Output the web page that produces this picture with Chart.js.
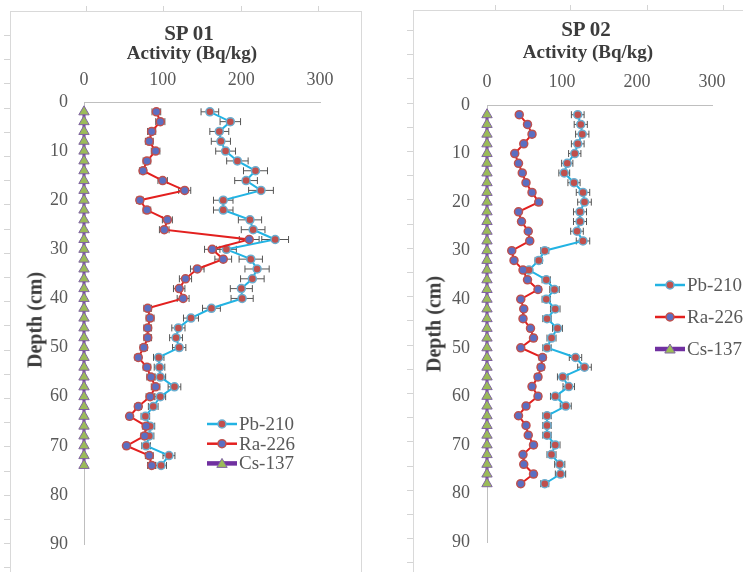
<!DOCTYPE html>
<html><head><meta charset="utf-8">
<script src="https://cdn.jsdelivr.net/npm/chart.js@4.4.0/dist/chart.umd.min.js"></script>
<style>
html,body{margin:0;padding:0;background:#fff;width:743px;height:572px;overflow:hidden;position:relative;font-family:"Liberation Serif","DejaVu Serif",serif;}
.frame{position:absolute;border:1px solid #d9d9d9;border-bottom:none;}
.lt{position:absolute;width:6px;background:repeating-linear-gradient(to bottom,#d4d4d4 0,#d4d4d4 1px,transparent 1px,transparent 24.2px);}
.tm{position:absolute;width:1px;height:5px;background:#d4d4d4;}
canvas{position:absolute;top:0;}
.t{position:absolute;white-space:nowrap;transform:translate(-50%,-50%);color:#3c3c3c;font-weight:bold;}
.sp{font-size:21px;}
.ac{font-size:19px;}
.dp{font-size:20px;transform:translate(-50%,-50%) rotate(-90deg);}
</style></head>
<body>
<div class="frame" style="left:10px;top:11px;width:350px;height:580px;"></div>
<div class="frame" style="left:413px;top:10px;width:400px;height:580px;"></div>
<div class="lt" style="left:4px;top:35px;height:540px;"></div>
<div class="lt" style="left:407px;top:30px;height:545px;"></div>
<div class="tm" style="left:86px;top:6px;"></div><div class="tm" style="left:163px;top:6px;"></div><div class="tm" style="left:241px;top:6px;"></div><div class="tm" style="left:318px;top:6px;"></div>
<div class="tm" style="left:495px;top:5px;"></div><div class="tm" style="left:570px;top:5px;"></div><div class="tm" style="left:647px;top:5px;"></div><div class="tm" style="left:723px;top:5px;"></div>

<canvas id="c1" width="370" height="572" style="left:0px;"></canvas>
<canvas id="c2" width="370" height="572" style="left:400px;"></canvas>

<div class="t sp" style="left:189px;top:33px;">SP 01</div>
<div class="t ac" style="left:192px;top:53px;">Activity (Bq/kg)</div>
<div class="t dp" style="left:35px;top:320px;">Depth (cm)</div>
<div class="t sp" style="left:586px;top:29px;">SP 02</div>
<div class="t ac" style="left:588px;top:52px;">Activity (Bq/kg)</div>
<div class="t dp" style="left:434px;top:324px;">Depth (cm)</div>

<script>
// ---- data ----
const seriesNames = ["Pb-210", "Ra-226", "Cs-137"];
const xTicks = [0, 100, 200, 300];
const yTicks = [0, 10, 20, 30, 40, 50, 60, 70, 80, 90];

const sp01Depth = [2,4,6,8,10,12,14,16,18,20,22,24,26,28,30,32,34,36,38,40,42,44,46,48,50,52,54,56,58,60,62,64,66,68,70,72,74];
const sp01Pb = [160,186,172,174,180,195,218,206,225,177,177,211,215,243,181,212,220,214,200,201,162,136,120,117,121,95,96,97,115,97,88,78,84,83,79,108,98];
const sp01Ra = [92,97,86,83,91,80,75,100,128,71,80,106,102,210,163,177,144,129,121,126,81,84,81,81,76,69,80,85,91,84,69,58,79,77,54,83,86];
const sp01Cs = [0,0,0,0,0,0,0,0,0,0,0,0,0,0,0,0,0,0,0,0,0,0,0,0,0,0,0,0,0,0,0,0,0,0,0,0,0];

const sp02Depth = [2,4,6,8,10,12,14,16,18,20,22,24,26,28,30,32,34,36,38,40,42,44,46,48,50,52,54,56,58,60,62,64,66,68,70,72,74,76,78];
const sp02Pb = [121,125,127,121,117,107,103,116,128,130,124,124,120,128,77,69,56,79,90,79,91,80,94,86,80,118,130,101,109,91,105,80,80,80,91,86,97,98,77];
const sp02Ra = [43,54,60,49,37,42,47,52,60,69,42,46,55,57,33,36,48,54,68,45,49,48,58,62,45,74,72,68,60,68,52,42,52,55,62,48,49,62,45];
const sp02Cs = [0,0,0,0,0,0,0,0,0,0,0,0,0,0,0,0,0,0,0,0,0,0,0,0,0,0,0,0,0,0,0,0,0,0,0,0,0,0,0];

const pbRelErr = 0.07;
const raRelErr = 0.06;

const FONT = '"Liberation Serif", "DejaVu Serif", serif';

// ---- plugins ----
const errBars = {
  id: 'errBars',
  beforeDatasetsDraw(chart) {
    const ctx = chart.ctx, xs = chart.scales.x, ys = chart.scales.y;
    ctx.save();
    ctx.strokeStyle = '#555555';
    ctx.lineWidth = 1;
    chart.data.datasets.forEach(ds => {
      if (!ds.relErr) return;
      ds.data.forEach(p => {
        const e = p.x * ds.relErr;
        const y = ys.getPixelForValue(p.y);
        const x1 = xs.getPixelForValue(p.x - e), x2 = xs.getPixelForValue(p.x + e);
        ctx.beginPath();
        ctx.moveTo(x1, y); ctx.lineTo(x2, y);
        ctx.moveTo(x1, y - 3.5); ctx.lineTo(x1, y + 3.5);
        ctx.moveTo(x2, y - 3.5); ctx.lineTo(x2, y + 3.5);
        ctx.stroke();
      });
    });
    ctx.restore();
  }
};

function marker(ctx, ds, x, y) {
  ctx.fillStyle = ds.pointBackgroundColor;
  ctx.strokeStyle = ds.pointBorderColor;
  ctx.lineWidth = ds.pointBorderWidth;
  ctx.beginPath();
  if (ds.pointStyle === 'triangle') {
    const r = ds.pointRadius;
    ctx.moveTo(x, y - r);
    ctx.lineTo(x + r * 0.866, y + r / 2);
    ctx.lineTo(x - r * 0.866, y + r / 2);
    ctx.closePath();
  } else {
    ctx.arc(x, y, ds.pointRadius, 0, Math.PI * 2);
  }
  ctx.fill(); ctx.stroke();
}

const legendPlug = {
  id: 'legendPlug',
  afterDraw(chart, args, opts) {
    const ctx = chart.ctx;
    ctx.save();
    chart.data.datasets.forEach((ds, i) => {
      const x = opts.x, y = opts.y + i * opts.gap;
      ctx.strokeStyle = ds.borderColor;
      ctx.lineWidth = ds.legendLineWidth;
      ctx.beginPath(); ctx.moveTo(x, y); ctx.lineTo(x + 30, y); ctx.stroke();
      marker(ctx, ds, x + 15, y + (ds.pointStyle === 'triangle' ? 1 : 0));
      ctx.fillStyle = '#595959';
      ctx.font = '19px ' + FONT;
      ctx.textBaseline = 'middle';
      ctx.textAlign = 'left';
      ctx.fillText(ds.label, x + 32, y + 1);
    });
    ctx.restore();
  }
};

function pts(xs, ys) { return xs.map((v, i) => ({x: v, y: ys[i]})); }

function makeChart(id, depth, pb, ra, cs, g) {
  const tickFont = {family: FONT, size: 18};
  return new Chart(document.getElementById(id), {
    type: 'scatter',
    data: {
      datasets: [
        {label: seriesNames[0], data: pts(pb, depth), showLine: true, relErr: pbRelErr, clip: false,
         borderColor: '#22b3e3', borderWidth: 2, legendLineWidth: 2.5,
         pointRadius: 4, pointBackgroundColor: '#c0504d', pointBorderColor: '#6aaed0', pointBorderWidth: 1.5, order: 3},
        {label: seriesNames[1], data: pts(ra, depth), showLine: true, relErr: raRelErr, clip: false,
         borderColor: '#e3201f', borderWidth: 2, legendLineWidth: 2.5,
         pointRadius: 4, pointBackgroundColor: '#5b6fc2', pointBorderColor: '#c0504d', pointBorderWidth: 1.5, order: 2},
        {label: seriesNames[2], data: pts(cs, depth), showLine: true, clip: false,
         borderColor: '#7030a0', borderWidth: 3, legendLineWidth: 4.5,
         pointStyle: 'triangle', pointRadius: 6, pointBackgroundColor: '#9bbb59', pointBorderColor: '#8064a2', pointBorderWidth: 1, order: 1}
      ]
    },
    options: {
      responsive: false, animation: false, devicePixelRatio: 1,
      layout: {padding: {left: 0, top: 0, right: g.right, bottom: g.bottom}},
      plugins: {legend: {display: false}, tooltip: {enabled: false},
        legendPlug: {x: g.lx, y: g.ly, gap: g.lgap}},
      scales: {
        x: {type: 'linear', position: 'top', min: xTicks[0], max: xTicks[xTicks.length - 1],
          afterBuildTicks(s) { s.ticks = xTicks.map(v => ({value: v})); },
          ticks: {padding: g.xpad, color: '#595959', font: tickFont, maxRotation: 0},
          grid: {display: false, drawTicks: false},
          border: {display: true, color: '#bfbfbf', width: 1},
          afterFit(s) { s.height = g.top; }},
        y: {type: 'linear', reverse: true, min: yTicks[0], max: yTicks[yTicks.length - 1],
          afterBuildTicks(s) { s.ticks = yTicks.map(v => ({value: v})); },
          ticks: {padding: g.ypad, color: '#595959', font: tickFont},
          grid: {display: false, drawTicks: false},
          border: {display: true, color: '#bfbfbf', width: 1},
          afterFit(s) { s.width = g.left; }}
      }
    },
    plugins: [errBars, legendPlug]
  });
}

makeChart('c1', sp01Depth, sp01Pb, sp01Ra, sp01Cs,
  {left: 84, top: 102, right: 50, bottom: 28, xpad: 11, ypad: 16, lx: 207, ly: 424, lgap: 19.7});
makeChart('c2', sp02Depth, sp02Pb, sp02Ra, sp02Cs,
  {left: 87, top: 105, right: 58, bottom: 30, xpad: 12, ypad: 17, lx: 255, ly: 285, lgap: 32});
</script>
</body></html>
